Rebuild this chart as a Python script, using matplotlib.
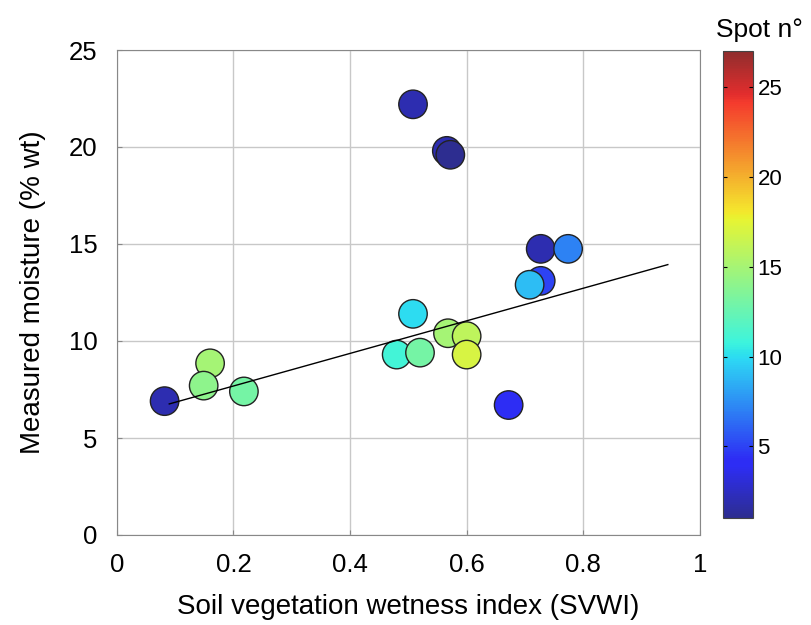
import numpy as np
import matplotlib.pyplot as plt
from matplotlib.colors import ListedColormap

plt.rcParams['font.family'] = ['Liberation Sans', 'DejaVu Sans']

# SVWI, measured moisture and spot number of each sampling point
svwi = [0.082, 0.508, 0.566, 0.572, 0.727, 0.774, 0.727, 0.708, 0.672,
        0.508, 0.480, 0.520, 0.568, 0.600, 0.600, 0.160, 0.149, 0.218]
moisture = [6.9, 22.2, 19.8, 19.6, 14.75, 14.75, 13.1, 12.9, 6.7,
            11.4, 9.3, 9.4, 10.4, 10.25, 9.3, 8.85, 7.7, 7.4]
spot = [2, 2, 2, 1, 2, 7, 5, 9, 4,
        10, 11, 13, 15, 16, 17, 15, 14, 13]

# linear fit shown in the figure
fit_slope = 8.4
fit_intercept = 6.0
fit_x = [0.09, 0.945]

# slightly muted jet, like the printed figure
jet = plt.get_cmap('jet')(np.linspace(0, 1, 256))
jet[:, :3] = 0.78 * jet[:, :3] + 0.22 * 0.8
muted_jet = ListedColormap(jet)

fig = plt.figure(figsize=(8.11, 6.25), dpi=100)
ax = fig.add_axes([0.144, 0.144, 0.719, 0.776])

sc = ax.scatter(svwi, moisture, c=spot, cmap=muted_jet, vmin=1, vmax=27,
                s=420, edgecolors='#222222', linewidths=1.0, zorder=3)
fx = np.array(fit_x)
ax.plot(fx, fit_intercept + fit_slope * fx, color='k', lw=1.0, zorder=4)

ax.set_xlim(0, 1)
ax.set_ylim(0, 25)
ax.set_xticks([0, 0.2, 0.4, 0.6, 0.8, 1])
ax.set_xticklabels(['0', '0.2', '0.4', '0.6', '0.8', '1'])
ax.set_yticks([0, 5, 10, 15, 20, 25])
ax.grid(True, color='#c8c8c8', lw=1.0)
ax.set_axisbelow(True)
for sp in ax.spines.values():
    sp.set_color('#888888')
ax.tick_params(direction='in', labelsize=18.5, color='#888888')
ax.tick_params(axis='x', pad=13)
ax.tick_params(axis='y', pad=14)
ax.set_xlabel('Soil vegetation wetness index (SVWI)', fontsize=20, labelpad=12)
ax.set_ylabel('Measured moisture (% wt)', fontsize=20, labelpad=16)

cax = fig.add_axes([0.891, 0.171, 0.037, 0.747])
cb = fig.colorbar(sc, cax=cax)
cb.set_ticks([5, 10, 15, 20, 25])
cb.ax.tick_params(labelsize=16, direction='in', length=3, left=True)
cb.outline.set_edgecolor('#444444')
fig.text(0.937, 0.952, 'Spot n°', fontsize=19, ha='center', va='center')

plt.savefig('out.png', dpi=100)
